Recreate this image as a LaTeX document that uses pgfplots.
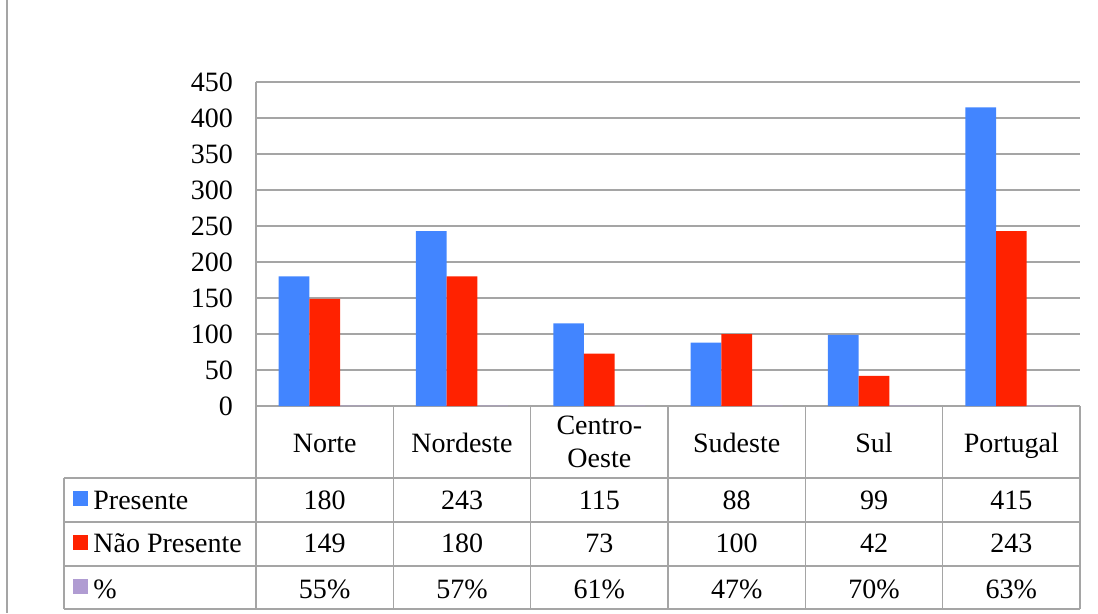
\documentclass[border=0pt]{standalone}
\usepackage{pgfplots}
\pgfplotsset{compat=1.18}
\usepackage{fontspec}
\setmainfont{Liberation Serif}
\definecolor{cblue}{RGB}{66,133,255}
\definecolor{cred}{RGB}{255,34,0}
\definecolor{cpurp}{RGB}{176,156,210}
\definecolor{cgrid}{RGB}{165,165,165}
\begin{document}
\begin{tikzpicture}
\begin{axis}[
 scale only axis, width=412pt, height=162pt,
 xmin=0, xmax=6, ymin=0, ymax=450,
 ybar=0pt, bar width=15.35pt,
 xtick=\empty, ytick={0,50,...,450},
 ymajorgrids, grid style={cgrid, line width=0.75pt},
 axis line style={draw=none},
 major tick length=0pt,
 yticklabel style={font=\fontsize{14}{16}\selectfont, xshift=-8pt},
 /pgf/number format/assume math mode=true,
 clip=false,
]
\addplot[fill=cblue, draw=none] coordinates {(0.5,180) (1.5,243) (2.5,115) (3.5,88) (4.5,99) (5.5,415)};
\addplot[fill=cred, draw=none] coordinates {(0.5,149) (1.5,180) (2.5,73) (3.5,100) (4.5,42) (5.5,243)};
\addplot[fill=cpurp, draw=none] coordinates {(0.5,0.55) (1.5,0.57) (2.5,0.61) (3.5,0.47) (4.5,0.70) (5.5,0.63)};
% table lines
\draw[cgrid, line width=0.75pt] (axis cs:0,450) -- (axis cs:0,-282);
\pgfplotsinvokeforeach{1,2,3,4,5,6}{\draw[cgrid, line width=0.75pt] (axis cs:#1,0) -- (axis cs:#1,-282);}
\pgfplotsinvokeforeach{-100,-161,-222,-282}{\draw[cgrid, line width=0.75pt] (axis cs:-1.398,#1) -- (axis cs:6,#1);}
\draw[cgrid, line width=0.75pt] (axis cs:-1.398,-100) -- (axis cs:-1.398,-282);
\draw[cgrid, line width=1pt] (axis cs:-1.813,564) -- (axis cs:-1.813,-287.5);
% table text
\tikzset{tt/.style={font=\fontsize{14}{16}\selectfont, inner sep=0pt, anchor=base}}
\node[tt] at (axis cs:0.5,-64) {Norte};
\node[tt] at (axis cs:1.5,-64) {Nordeste};
\node[tt] at (axis cs:2.5,-40) {Centro-};
\node[tt] at (axis cs:2.5,-85) {Oeste};
\node[tt] at (axis cs:3.5,-64) {Sudeste};
\node[tt] at (axis cs:4.5,-64) {Sul};
\node[tt] at (axis cs:5.5,-64) {Portugal};
\node[tt] at (axis cs:0.5,-143) {180};
\node[tt] at (axis cs:1.5,-143) {243};
\node[tt] at (axis cs:2.5,-143) {115};
\node[tt] at (axis cs:3.5,-143) {88};
\node[tt] at (axis cs:4.5,-143) {99};
\node[tt] at (axis cs:5.5,-143) {415};
\node[tt] at (axis cs:0.5,-204) {149};
\node[tt] at (axis cs:1.5,-204) {180};
\node[tt] at (axis cs:2.5,-204) {73};
\node[tt] at (axis cs:3.5,-204) {100};
\node[tt] at (axis cs:4.5,-204) {42};
\node[tt] at (axis cs:5.5,-204) {243};
\node[tt] at (axis cs:0.5,-267) {55\%};
\node[tt] at (axis cs:1.5,-267) {57\%};
\node[tt] at (axis cs:2.5,-267) {61\%};
\node[tt] at (axis cs:3.5,-267) {47\%};
\node[tt] at (axis cs:4.5,-267) {70\%};
\node[tt] at (axis cs:5.5,-267) {63\%};
\node[tt, anchor=base west] at (axis cs:-1.187,-143) {Presente};
\node[tt, anchor=base west] at (axis cs:-1.187,-204) {Não Presente};
\node[tt, anchor=base west] at (axis cs:-1.187,-267) {\%};
\fill[cblue] (axis cs:-1.278,-128.5) ++(-3.75pt,-3.75pt) rectangle ++(7.5pt,7.5pt);
\fill[cred] (axis cs:-1.278,-189) ++(-3.75pt,-3.75pt) rectangle ++(7.5pt,7.5pt);
\fill[cpurp] (axis cs:-1.278,-250) ++(-3.75pt,-3.75pt) rectangle ++(7.5pt,7.5pt);
\coordinate (bbA) at (axis cs:-1.864,-287.5);
\coordinate (bbB) at (axis cs:6.131,564);
\end{axis}
\pgfresetboundingbox
\useasboundingbox (bbA) rectangle (bbB);
\end{tikzpicture}
\end{document}
